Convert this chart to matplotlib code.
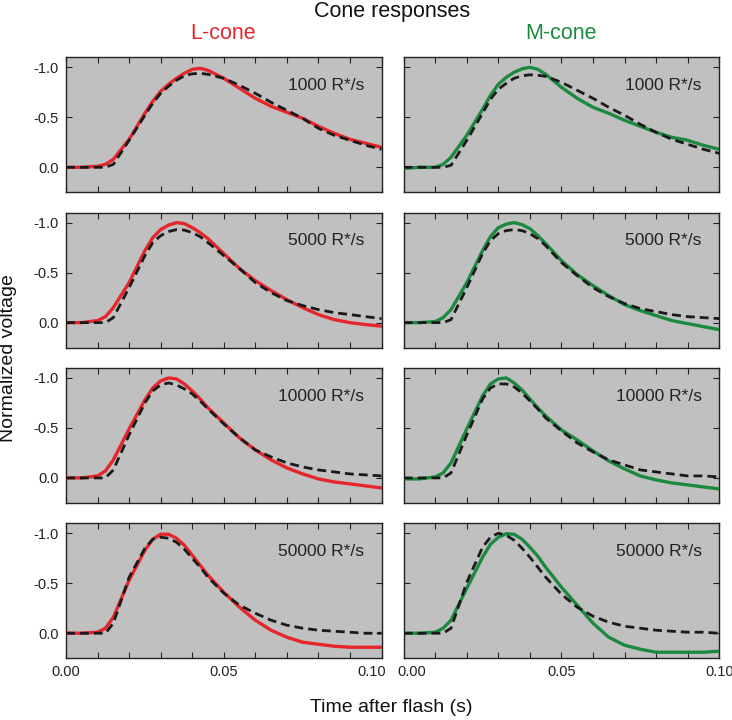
import matplotlib
matplotlib.use("Agg")
import matplotlib.pyplot as plt
from matplotlib.ticker import MultipleLocator
from matplotlib.transforms import ScaledTranslation

plt.rcParams['font.family'] = ['Liberation Sans', 'DejaVu Sans']
plt.rcParams['axes.unicode_minus'] = False

# time after flash (s)
t = [0, 0.005, 0.01, 0.0125, 0.015, 0.02, 0.025, 0.0275, 0.03, 0.0325, 0.035,
     0.0375, 0.04, 0.0425, 0.045, 0.05, 0.055, 0.06, 0.065, 0.07, 0.075, 0.08,
     0.085, 0.09, 0.095, 0.1]

intensities = ["1000 R*/s", "5000 R*/s", "10000 R*/s", "50000 R*/s"]

# L-cone recordings (solid) and model (dashed)
l_1000 = [0, 0, -0.01, -0.03, -0.08, -0.28, -0.54, -0.66, -0.76, -0.83, -0.89,
          -0.94, -0.98, -0.99, -0.97, -0.89, -0.79, -0.69, -0.61, -0.55, -0.49,
          -0.41, -0.34, -0.28, -0.24, -0.20]
l_1000_fit = [0, 0, 0, 0, -0.03, -0.27, -0.52, -0.64, -0.74, -0.81, -0.87,
              -0.915, -0.935, -0.94, -0.93, -0.89, -0.82, -0.74, -0.65, -0.57,
              -0.49, -0.39, -0.32, -0.27, -0.22, -0.18]
l_5000 = [0, 0, -0.02, -0.06, -0.15, -0.40, -0.72, -0.85, -0.93, -0.975, -1.0,
          -0.99, -0.95, -0.90, -0.84, -0.69, -0.54, -0.42, -0.32, -0.23, -0.15,
          -0.08, -0.03, 0.0, 0.02, 0.035]
l_5000_fit = [0, 0, 0, 0, -0.05, -0.35, -0.67, -0.80, -0.87, -0.91, -0.93,
              -0.925, -0.90, -0.86, -0.80, -0.67, -0.54, -0.40, -0.30, -0.22,
              -0.17, -0.13, -0.10, -0.08, -0.06, -0.04]
l_10000 = [0, 0, -0.02, -0.07, -0.18, -0.49, -0.78, -0.90, -0.97, -1.0, -0.99,
           -0.94, -0.87, -0.79, -0.70, -0.55, -0.40, -0.28, -0.18, -0.10, -0.04,
           0.01, 0.04, 0.06, 0.08, 0.10]
l_10000_fit = [0, 0, 0, 0, -0.08, -0.43, -0.75, -0.87, -0.93, -0.95, -0.93,
               -0.89, -0.84, -0.77, -0.69, -0.54, -0.40, -0.28, -0.21, -0.15,
               -0.11, -0.08, -0.06, -0.04, -0.03, -0.02]
l_50000 = [0, 0, -0.01, -0.05, -0.16, -0.53, -0.83, -0.94, -0.99, -0.99, -0.95,
           -0.88, -0.78, -0.68, -0.58, -0.41, -0.26, -0.13, -0.03, 0.04, 0.09,
           0.11, 0.13, 0.14, 0.14, 0.14]
l_50000_fit = [0, 0, 0, 0, -0.10, -0.56, -0.85, -0.94, -0.96, -0.95, -0.91,
               -0.84, -0.75, -0.66, -0.56, -0.40, -0.28, -0.20, -0.13, -0.08,
               -0.05, -0.03, -0.02, -0.01, 0, 0]

# M-cone recordings (solid) and model (dashed)
m_1000 = [0.01, 0, 0, -0.03, -0.10, -0.32, -0.58, -0.72, -0.83, -0.90, -0.95,
          -0.985, -1.0, -0.98, -0.93, -0.80, -0.69, -0.60, -0.54, -0.47, -0.41,
          -0.35, -0.30, -0.27, -0.22, -0.18]
m_1000_fit = [0, 0, 0, 0, -0.02, -0.27, -0.54, -0.68, -0.78, -0.84, -0.89,
              -0.915, -0.925, -0.92, -0.91, -0.85, -0.77, -0.69, -0.60, -0.52,
              -0.43, -0.35, -0.28, -0.23, -0.18, -0.14]
m_5000 = [0, 0, -0.01, -0.05, -0.13, -0.40, -0.72, -0.86, -0.95, -0.985, -1.0,
          -0.98, -0.94, -0.87, -0.79, -0.62, -0.48, -0.37, -0.27, -0.18, -0.12,
          -0.07, -0.02, 0.01, 0.04, 0.07]
m_5000_fit = [0, 0, 0, 0, -0.03, -0.35, -0.69, -0.82, -0.89, -0.92, -0.93,
              -0.92, -0.89, -0.84, -0.77, -0.60, -0.47, -0.35, -0.26, -0.19,
              -0.14, -0.11, -0.08, -0.06, -0.05, -0.04]
m_10000 = [0.01, 0.01, -0.01, -0.05, -0.15, -0.49, -0.82, -0.94, -0.99, -1.0, -0.95,
           -0.88, -0.79, -0.70, -0.62, -0.48, -0.38, -0.27, -0.17, -0.09, -0.02,
           0.02, 0.05, 0.07, 0.09, 0.11]
m_10000_fit = [0, 0, 0, 0, -0.05, -0.43, -0.79, -0.90, -0.94, -0.94, -0.91,
               -0.85, -0.77, -0.69, -0.60, -0.47, -0.35, -0.26, -0.18, -0.13,
               -0.08, -0.06, -0.04, -0.02, -0.02, -0.01]
m_50000 = [0, 0, -0.01, -0.05, -0.13, -0.45, -0.76, -0.89, -0.96, -0.995, -0.99,
           -0.94, -0.86, -0.77, -0.66, -0.46, -0.28, -0.10, 0.04, 0.12, 0.16,
           0.19, 0.19, 0.19, 0.19, 0.18]
m_50000_fit = [0, 0, 0, 0, -0.05, -0.51, -0.86, -0.96, -1.0, -0.98, -0.93,
               -0.85, -0.76, -0.66, -0.56, -0.39, -0.26, -0.17, -0.11, -0.07,
               -0.05, -0.03, -0.02, -0.01, -0.01, 0]

l_data = [l_1000, l_5000, l_10000, l_50000]
l_fit = [l_1000_fit, l_5000_fit, l_10000_fit, l_50000_fit]
m_data = [m_1000, m_5000, m_10000, m_50000]
m_fit = [m_1000_fit, m_5000_fit, m_10000_fit, m_50000_fit]

red = '#e5262b'
green = '#1b8a3f'
dark = '#1a1a1a'

fig = plt.figure(figsize=(7.32, 7.2), dpi=100)

lefts = [0.0902, 0.5515]
w = 0.431
h = 0.1875
bottoms = [0.7329, 0.5172, 0.3015, 0.0858]

for row in range(4):
    for col in range(2):
        ax = fig.add_axes([lefts[col], bottoms[row], w, h])
        ax.set_facecolor('#c0c0c0')
        if col == 0:
            ax.plot(t, l_data[row], color=red, lw=2.4, zorder=3)
            ax.plot(t, l_fit[row], color=dark, lw=2.0, ls=(0, (3.2, 1.8)), zorder=4)
        else:
            ax.plot(t, m_data[row], color=green, lw=2.4, zorder=3)
            ax.plot(t, m_fit[row], color=dark, lw=2.0, ls=(0, (3.2, 1.8)), zorder=4)
        ax.set_xlim(0, 0.1)
        ax.set_ylim(0.25, -1.1)
        ax.set_yticks([-1.0, -0.5, 0.0])
        ax.set_xticks([0, 0.05, 0.1])
        ax.xaxis.set_minor_locator(MultipleLocator(0.01))
        ax.tick_params(which='both', direction='in', top=True, right=True,
                       length=4, width=0.8, color='#222222', labelsize=10.5,
                       labelcolor='#222222', pad=5)
        if col == 0:
            ax.set_yticklabels(['-1.0', '-0.5', '0.0'])
        else:
            ax.set_yticklabels([])
        if row == 3:
            ax.set_xticklabels(['0.00', '0.05', '0.10'])
            labels = ax.get_xticklabels()
            if col == 0:
                lab = labels[-1]
                lab.set_transform(lab.get_transform() +
                                  ScaledTranslation(-7 / 72, 0, fig.dpi_scale_trans))
            else:
                lab = labels[0]
                lab.set_transform(lab.get_transform() +
                                  ScaledTranslation(6 / 72, 0, fig.dpi_scale_trans))
        else:
            ax.set_xticklabels([])
        for s in ax.spines.values():
            s.set_linewidth(1.0)
            s.set_color('#222222')
        ax.text(0.945, 0.79, intensities[row], transform=ax.transAxes,
                ha='right', va='center', fontsize=12.5, color='#222222')

fig.text(0.535, 0.9757, 'Cone responses', ha='center', va='baseline', fontsize=15.5, color='#111111')
fig.text(0.305, 0.9458, 'L-cone', ha='center', va='baseline', fontsize=15.5, color=red)
fig.text(0.766, 0.9458, 'M-cone', ha='center', va='baseline', fontsize=15.5, color=green)
fig.text(0.012, 0.502, 'Normalized voltage', rotation=90, ha='center', va='center',
         fontsize=14, color='#111111')
fig.text(0.535, 0.018, 'Time after flash (s)', ha='center', va='center',
         fontsize=14, color='#111111')

fig.savefig('out.png', dpi=100)
